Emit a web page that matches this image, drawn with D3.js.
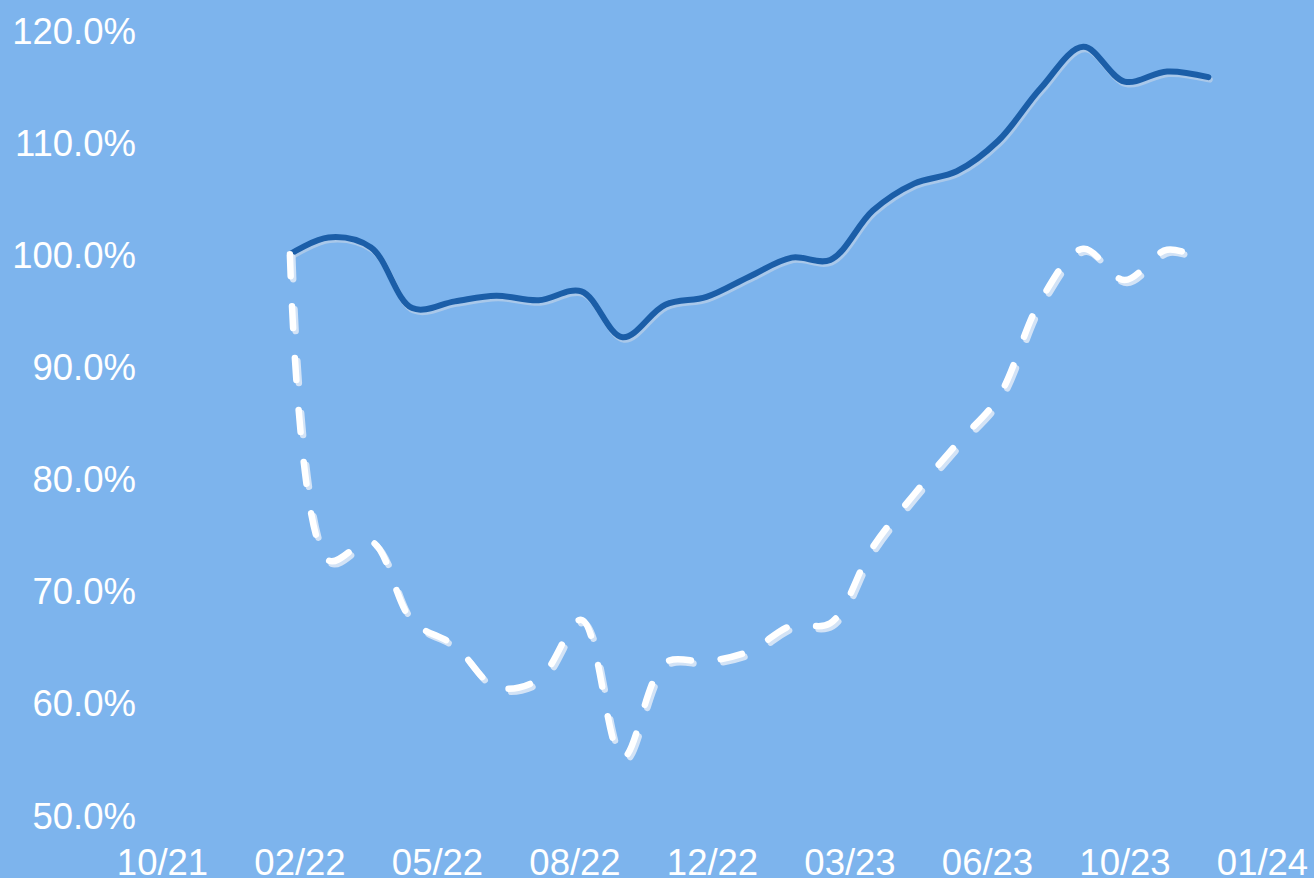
<!DOCTYPE html>
<html>
<head>
<meta charset="utf-8">
<script src="https://cdn.jsdelivr.net/npm/d3@7"></script>
<style>
  html, body { margin: 0; padding: 0; background: #7db4ed; overflow: hidden; }
  text { font-family: "Liberation Sans", Arial, sans-serif; fill: #ffffff; }
</style>
</head>
<body>
<script>
// Monthly observation dates
var months = ["2022-02-01", "2022-03-01", "2022-04-01", "2022-05-01", "2022-06-01", "2022-07-01",
  "2022-08-01", "2022-09-01", "2022-10-01", "2022-11-01", "2022-12-01", "2023-01-01",
  "2023-02-01", "2023-03-01", "2023-04-01", "2023-05-01", "2023-06-01", "2023-07-01",
  "2023-08-01", "2023-09-01", "2023-10-01", "2023-11-01", "2023-12-01"];

// Solid dark blue series (%)
var solidValues = [100.0, 101.5, 100.6, 95.2, 95.8, 96.3, 95.9, 96.7, 92.6, 95.5, 96.2, 98.0,
  99.7, 99.5, 103.9, 106.3, 107.4, 110.1, 114.8, 118.5, 115.4, 116.3, 115.8];

// Dashed white series (%)
var dashedValues = [100.0, 72.7, 74.4, 67.3, 65.1, 61.4, 62.1, 67.4, 55.1, 63.6, 63.7, 64.6,
  66.9, 67.1, 73.9, 78.6, 83.1, 87.2, 95.9, 100.5, 97.7, 100.4, 99.3];

// Axis ticks
var tickDates = ["2021-10-31", "2022-02-08", "2022-05-19", "2022-08-27", "2022-12-05",
  "2023-03-15", "2023-06-23", "2023-10-01", "2024-01-09"];
var tickLabels = ["10/21", "02/22", "05/22", "08/22", "12/22", "03/23", "06/23", "10/23", "01/24"];
var yTicks = [50, 60, 70, 80, 90, 100, 110, 120];

var svgWidth = 1314;
var svgHeight = 878;

var parseDate = d3.timeParse("%Y-%m-%d");

var svg = d3.select("body")
  .append("svg")
  .attr("width", svgWidth)
  .attr("height", svgHeight);

svg.append("rect")
  .attr("width", svgWidth)
  .attr("height", svgHeight)
  .attr("fill", "#7db4ed");

// scales
var xTimeScale = d3.scaleTime()
  .domain([parseDate(tickDates[0]), parseDate(tickDates[tickDates.length - 1])])
  .range([162, 1262]);

var yLinearScale = d3.scaleLinear()
  .domain([50, 120])
  .range([815, 30]);

// axes (labels only)
var bottomAxis = d3.axisBottom(xTimeScale)
  .tickValues(tickDates.map(parseDate))
  .tickFormat((d, i) => tickLabels[i])
  .tickSize(0);

var leftAxis = d3.axisLeft(yLinearScale)
  .tickValues(yTicks)
  .tickFormat(d => d.toFixed(1) + "%")
  .tickSize(0);

var xAxisGroup = svg.append("g")
  .attr("transform", "translate(0, 847)")
  .call(bottomAxis);

var yAxisGroup = svg.append("g")
  .attr("transform", "translate(136, 0)")
  .call(leftAxis);

[xAxisGroup, yAxisGroup].forEach(function(g) {
  g.select(".domain").remove();
  g.selectAll("text")
    .attr("fill", "#ffffff")
    .style("font-size", "36.5px")
    .style("font-family", "'Liberation Sans', Arial, sans-serif");
});
xAxisGroup.selectAll("text").attr("dy", "0").attr("y", 28);
yAxisGroup.selectAll("text").attr("x", 0).attr("dy", "0.36em");

// line data
var solidData = months.map((m, i) => ({ date: parseDate(m), value: solidValues[i] }));
var dashedData = months.map((m, i) => ({ date: parseDate(m), value: dashedValues[i] }));

var line = d3.line()
  .x(d => xTimeScale(d.date))
  .y(d => yLinearScale(d.value))
  .curve(d3.curveCatmullRom.alpha(0.5));

// solid line with soft shadow
svg.append("path")
  .datum(solidData)
  .attr("d", line)
  .attr("transform", "translate(1.5, 2.5)")
  .attr("fill", "none")
  .attr("stroke", "#b4cde8")
  .attr("stroke-opacity", 0.8)
  .attr("stroke-width", 6)
  .attr("stroke-linecap", "round")
  .attr("stroke-linejoin", "round");

svg.append("path")
  .datum(solidData)
  .attr("d", line)
  .attr("fill", "none")
  .attr("stroke", "#1b5ea8")
  .attr("stroke-width", 6)
  .attr("stroke-linecap", "round")
  .attr("stroke-linejoin", "round");

// dashed line with shadow
svg.append("path")
  .datum(dashedData)
  .attr("d", line)
  .attr("transform", "translate(2.5, 3)")
  .attr("fill", "none")
  .attr("stroke", "#d3e3f6")
  .attr("stroke-width", 6.5)
  .attr("stroke-dasharray", "22,30")
  .attr("stroke-linecap", "round");

svg.append("path")
  .datum(dashedData)
  .attr("d", line)
  .attr("fill", "none")
  .attr("stroke", "#ffffff")
  .attr("stroke-width", 6.5)
  .attr("stroke-dasharray", "22,30")
  .attr("stroke-linecap", "round");
</script>
</body>
</html>
